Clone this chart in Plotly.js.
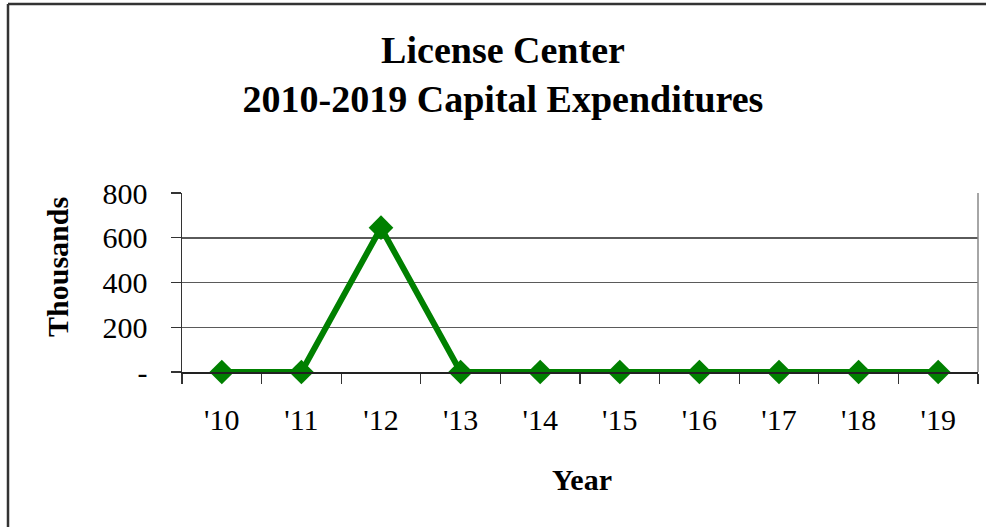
<!DOCTYPE html>
<html>
<head>
<meta charset="utf-8">
<script src="https://cdn.plot.ly/plotly-3.0.1.min.js"></script>
<style>
  html, body { margin: 0; padding: 0; background: #fff; }
  #chart { width: 986px; height: 527px; }
</style>
</head>
<body>
<div id="chart"></div>
<script>
// ---- data ----
const years = ["'10", "'11", "'12", "'13", "'14", "'15", "'16", "'17", "'18", "'19"];
const capex = [0, 0, 645, 0, 0, 0, 0, 0, 0, 0];
const yTickValues = [0, 200, 400, 600, 800];
const yTickLabels = ["-", "200", "400", "600", "800"];

// ---- layout geometry ----
const W = 986, H = 527;
const M = { l: 182, r: 8, t: 193, b: 155 };
const pw = W - M.l - M.r, ph = H - M.t - M.b;
const px = x => (x - M.l) / pw;        // pixel -> paper x
const py = y => (H - M.b - y) / ph;    // pixel -> paper y

const FONT = "'Times New Roman', 'Liberation Serif', serif";

const trace = {
  x: years,
  y: capex,
  type: 'scatter',
  mode: 'lines+markers',
  line: { color: '#008000', width: 6 },
  marker: { symbol: 'diamond', size: 19, color: '#008000' },
  hoverinfo: 'x+y',
  showlegend: false,
  cliponaxis: false
};

const layout = {
  width: W,
  height: H,
  margin: M,
  paper_bgcolor: '#ffffff',
  plot_bgcolor: '#ffffff',
  font: { family: FONT, color: '#000000', size: 30 },
  title: {
    text: 'License Center<br>2010-2019 Capital Expenditures',
    font: { family: FONT, size: 38, color: '#000000', weight: 'bold' },
    x: 503 / W,
    xanchor: 'center',
    y: 1 - 63 / H,
    yanchor: 'top',
    yref: 'container'
  },
  xaxis: {
    type: 'category',
    range: [-0.5, 9.5],
    showgrid: false,
    showline: true,
    linecolor: '#222222',
    linewidth: 1.5,
    ticks: 'outside',
    tickson: 'boundaries',
    ticklen: 10,
    tickwidth: 1.2,
    tickcolor: '#333333',
    tickfont: { family: FONT, size: 30, color: '#000000' },
    ticklabelstandoff: 20,
    zeroline: false,
    fixedrange: true
  },
  yaxis: {
    range: [0, 800],
    tickvals: yTickValues,
    ticktext: yTickLabels,
    showgrid: true,
    gridcolor: '#5a5a5a',
    gridwidth: 1.5,
    showline: true,
    linecolor: '#333333',
    linewidth: 1.5,
    ticks: 'outside',
    ticklen: 10,
    tickwidth: 1.2,
    tickcolor: '#333333',
    tickfont: { family: FONT, size: 30, color: '#000000' },
    ticklabelstandoff: 17,
    zeroline: false,
    fixedrange: true
  },
  annotations: [
    {
      text: 'Thousands',
      textangle: -90,
      xref: 'paper', yref: 'paper',
      x: px(57), y: py(267),
      xanchor: 'center', yanchor: 'middle',
      showarrow: false,
      font: { family: FONT, size: 30, color: '#000000', weight: 'bold' }
    },
    {
      text: 'Year',
      xref: 'paper', yref: 'paper',
      x: px(582), y: py(479),
      xanchor: 'center', yanchor: 'middle',
      showarrow: false,
      font: { family: FONT, size: 30, color: '#000000', weight: 'bold' }
    }
  ],
  shapes: [
    // right border of plot area
    { type: 'line', xref: 'paper', yref: 'paper', x0: 1, x1: 1, y0: 0, y1: 1,
      line: { color: '#888888', width: 1.5 } },
    // outer chart frame (left and top edges)
    { type: 'line', xref: 'paper', yref: 'paper', x0: px(8), x1: px(8), y0: py(4), y1: py(H + 2),
      line: { color: '#333333', width: 2.5 } },
    { type: 'line', xref: 'paper', yref: 'paper', x0: px(8), x1: px(W + 2), y0: py(4), y1: py(4),
      line: { color: '#333333', width: 2.5 } }
  ]
};

Plotly.newPlot('chart', [trace], layout, { displayModeBar: false, staticPlot: true });
</script>
</body>
</html>
